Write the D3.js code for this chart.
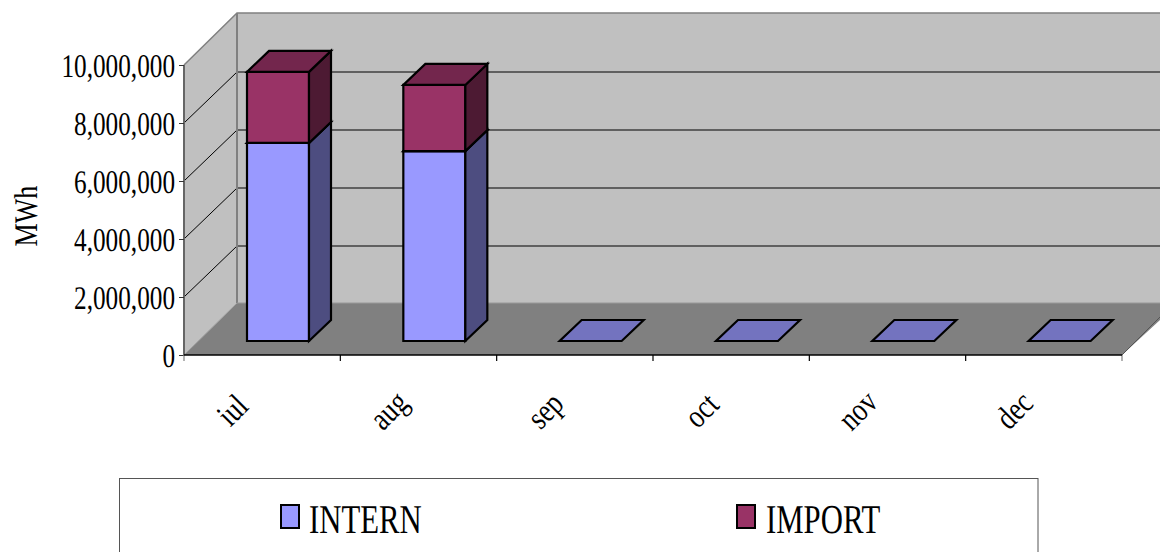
<!DOCTYPE html>
<html><head><meta charset="utf-8">
<script src="https://cdnjs.cloudflare.com/ajax/libs/d3/7.8.5/d3.min.js"></script>
<style>html,body{margin:0;padding:0;background:#fff;overflow:hidden}svg{display:block}
text{font-family:"Liberation Serif","Times New Roman",serif;fill:#000;text-rendering:geometricPrecision}</style></head>
<body><svg id="c" width="1160" height="552"></svg>
<script>
const months = ["iul","aug","sep","oct","nov","dec"];
const intern = [6830000,6550000,0,0,0,0];
const imported = [2450000,2280000,0,0,0,0];
const yTicks = [0,2000000,4000000,6000000,8000000,10000000];
const seriesNames = ["INTERN","IMPORT"];

const svg = d3.select("#c");
const W0=184, W1=1122, Y0=355, Y1=65, DX=53, DY=52;
const x = d3.scaleBand().domain(months).range([W0,W1]);
const y = d3.scaleLinear().domain([0,10000000]).range([Y0,Y1]);
const fmt = d3.format(",");
const poly = pts => pts.map(p=>p.join(",")).join(" ");
const wallTop = y(10000000);

// walls and floor
svg.append("polygon").attr("points",poly([[W0,Y0],[W0,wallTop],[W0+DX,wallTop-DY],[W0+DX,Y0-DY]])).attr("fill","#c0c0c0");
svg.append("polygon").attr("points",poly([[W0+DX,Y0-DY],[W0+DX,wallTop-DY],[1160,wallTop-DY],[1160,Y0-DY]])).attr("fill","#c0c0c0");
svg.append("polygon").attr("points",poly([[W0,Y0],[W0+DX,Y0-DY],[1160,Y0-DY],[1160,Y0-DY+17],[W1,Y0]])).attr("fill","#808080");
// gridlines
yTicks.slice(1,-1).forEach(t=>{
  const g=y(t);
  svg.append("polyline").attr("points",poly([[W0,g],[W0+DX,g-DY+1],[1160,g-DY+1]])).attr("fill","none").attr("stroke","#000").attr("stroke-width",1);
});
// wall edges
const edge="#808080";
svg.append("polyline").attr("points",poly([[W0,wallTop],[W0+DX,wallTop-DY],[1160,wallTop-DY]])).attr("fill","none").attr("stroke",edge).attr("stroke-width",1.5);
svg.append("line").attr("x1",W0+DX).attr("x2",W0+DX).attr("y1",wallTop-DY).attr("y2",Y0-DY).attr("stroke",edge).attr("stroke-width",2);
svg.append("line").attr("x1",W0+DX).attr("x2",1160).attr("y1",Y0-DY).attr("y2",Y0-DY).attr("stroke","#999").attr("stroke-width",1);
svg.append("line").attr("x1",W0).attr("x2",W0+DX).attr("y1",Y0).attr("y2",Y0-DY).attr("stroke","#a0a0a0").attr("stroke-width",1);
svg.append("line").attr("x1",W1).attr("x2",1160).attr("y1",Y0).attr("y2",Y0-38).attr("stroke","#555").attr("stroke-width",1);

// bars
const ox=63, oy=14, bw=62, bdx=22, bdy=21;
const barH = v => y(0)-y(v);
function box(x0,base,h,front,side,top){
  const g=svg.append("g").attr("stroke","#000").attr("stroke-width",2.2).attr("stroke-linejoin","miter");
  if(h>0){
    g.append("polygon").attr("points",poly([[x0,base],[x0+bw,base],[x0+bw,base-h],[x0,base-h]])).attr("fill",front);
    g.append("polygon").attr("points",poly([[x0+bw,base],[x0+bw+bdx,base-bdy],[x0+bw+bdx,base-bdy-h],[x0+bw,base-h]])).attr("fill",side);
  }
  g.append("polygon").attr("points",poly([[x0,base-h],[x0+bw,base-h],[x0+bw+bdx,base-h-bdy],[x0+bdx,base-h-bdy]])).attr("fill",top);
}
months.forEach((m,i)=>{
  const x0=x(m)+ox, base=Y0-oy;
  if(intern[i]>0){
    box(x0,base,barH(intern[i]),"#9999ff","#4d4d80","#7373bf");
    box(x0,base-barH(intern[i]),barH(imported[i]),"#993366","#4d1a33","#73264d");
  } else {
    box(x0,base,0,"#9999ff","#4d4d80","#7373bf");
  }
});

// axes
const axY=d3.axisLeft(y).tickValues(yTicks).tickFormat("").tickSize(5);
const gy=svg.append("g").attr("transform",`translate(${W0},0)`).call(axY);
gy.select(".domain").attr("stroke","#666").attr("stroke-width",2).attr("d",`M0,${Y0}V${Y1}`);
gy.selectAll("line").attr("stroke","#333").attr("stroke-width",1);
const tick=svg.append("g").attr("transform",`translate(${W0},${Y0})`);
const xEdge=d3.scaleLinear().domain([0,months.length]).range([0,W1-W0]);
d3.range(months.length+1).forEach(i=>{
  tick.append("line").attr("x1",xEdge(i)).attr("x2",xEdge(i)).attr("y1",0).attr("y2",6).attr("stroke",i==0||i==months.length?"#808080":"#000").attr("stroke-width",1.2);
});
tick.append("line").attr("x1",0).attr("x2",W1-W0).attr("y1",0).attr("y2",0).attr("stroke","#000").attr("stroke-width",1.5);

// y labels
yTicks.forEach(t=>{
  svg.append("text").attr("transform",`translate(175,${y(t)+11.5}) scale(0.765,1)`)
    .attr("text-anchor","end").attr("font-size",33).text(fmt(t));
});
// x labels
months.forEach(m=>{
  svg.append("text").attr("transform",`translate(${x(m)+x.bandwidth()/2-22},${418}) rotate(-45) scale(0.8,1)`)
    .attr("text-anchor","middle").attr("font-size",33).text(m);
});
svg.append("text").attr("transform","translate(36.5,216) rotate(-90) scale(0.79,1)").attr("text-anchor","middle").attr("font-size",33).text("MWh");

// legend
svg.append("rect").attr("x",119.5).attr("y",478.5).attr("width",918.5).attr("height",90).attr("fill","#fff").attr("stroke","#555").attr("stroke-width",1);
const lx=[281,737], tx=[309,766], lc=["#9999ff","#993366"];
seriesNames.forEach((s,i)=>{
  svg.append("rect").attr("x",lx[i]).attr("y",505).attr("width",18).attr("height",23).attr("fill",lc[i]).attr("stroke","#000").attr("stroke-width",2);
  svg.append("text").attr("transform",`translate(${tx[i]},533) scale(0.75,1)`).attr("font-size",41).text(s);
});
</script></body></html>
